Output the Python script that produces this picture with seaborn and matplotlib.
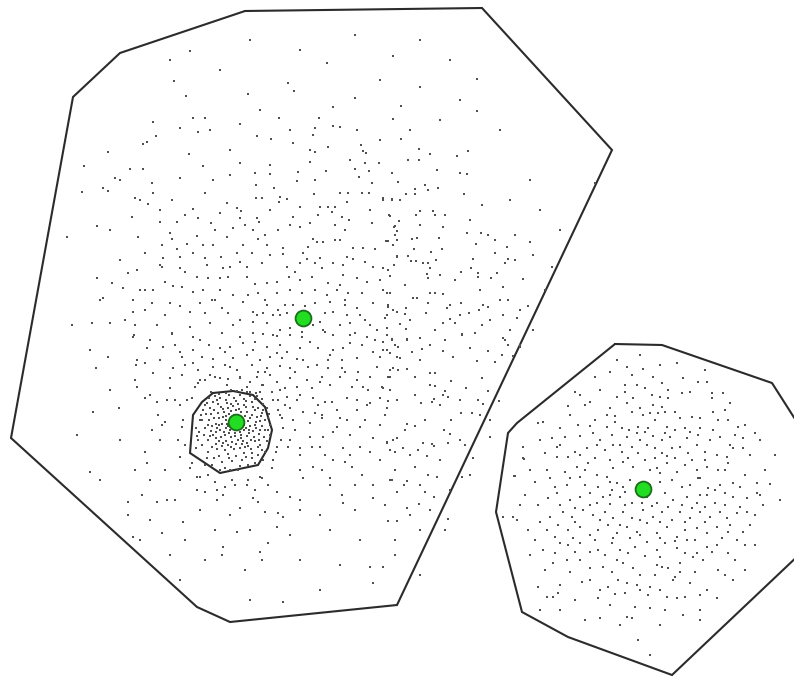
import matplotlib
matplotlib.use("Agg")
import matplotlib.pyplot as plt
import seaborn as sns
import pandas as pd

# Cluster outlines (convex hulls), in pixel coordinates (y grows downward)
hull_wide = [(245, 11), (482, 8), (612, 150), (397, 605), (230, 622), (197, 607),
             (11, 438), (73, 97), (120, 53)]
hull_tight = [(213, 393), (233, 391), (253, 395), (265, 407), (272, 430), (268, 448),
              (258, 465), (220, 473), (190, 453), (193, 415), (202, 402)]
hull_right = [(615, 344), (662, 345), (772, 383), (802, 430), (802, 552), (672, 675),
              (568, 637), (522, 612), (496, 512), (508, 433), (517, 423)]

# Cluster centres
centers_x = [303, 236, 643]
centers_y = [318, 422, 489]

# Observations of the wide cluster
pts_wide = [
    (190, 51), (355, 35), (393, 56), (327, 63), (174, 81), (288, 83), (294, 91), (186, 96),
    (248, 94), (355, 98), (333, 107), (193, 118), (205, 118), (279, 118), (319, 118), (153, 122),
    (240, 124), (333, 126), (340, 127), (180, 128), (315, 128), (357, 130), (198, 132), (156, 136),
    (257, 136), (313, 135), (271, 139), (143, 144), (147, 142), (293, 143), (328, 147), (361, 145),
    (108, 152), (189, 154), (315, 152), (363, 151), (366, 153), (84, 166), (203, 166), (240, 163),
    (270, 165), (310, 162), (365, 163), (379, 163), (130, 169), (143, 169), (255, 173), (270, 174),
    (298, 172), (326, 171), (355, 169), (369, 171), (115, 178), (152, 183), (180, 178), (213, 180),
    (230, 175), (297, 181), (315, 180), (359, 177), (372, 183), (82, 192), (103, 188), (108, 191),
    (153, 193), (205, 193), (256, 185), (274, 188), (340, 193), (348, 193), (362, 193), (369, 193),
    (135, 198), (256, 198), (262, 198), (280, 197), (287, 199), (314, 194), (383, 198), (392, 199),
    (172, 200), (148, 204), (227, 203), (279, 202), (300, 207), (320, 207), (328, 207), (335, 207),
    (193, 209), (237, 208), (241, 211), (347, 202), (332, 212), (220, 213), (132, 217), (342, 217),
    (390, 216), (240, 218), (257, 218), (198, 218), (349, 220), (97, 226), (160, 222), (177, 222),
    (211, 223), (259, 222), (293, 217), (310, 223), (335, 225), (372, 223), (395, 226), (67, 237),
    (138, 237), (170, 233), (197, 236), (233, 228), (253, 230), (265, 235), (278, 230), (300, 227),
    (313, 239), (340, 240), (388, 241), (162, 245), (172, 239), (187, 244), (203, 245), (213, 245),
    (227, 237), (243, 245), (258, 239), (267, 245), (283, 248), (308, 247), (317, 242), (323, 242),
    (335, 240), (353, 248), (363, 248), (375, 249), (393, 245), (145, 253), (177, 249), (193, 253),
    (237, 253), (252, 253), (283, 254), (303, 253), (347, 257), (397, 256), (163, 258), (180, 257),
    (221, 257), (307, 259), (353, 259), (128, 273), (137, 270), (162, 267), (180, 268), (207, 265),
    (223, 268), (230, 267), (247, 267), (262, 263), (287, 267), (300, 263), (315, 263), (322, 268),
    (333, 263), (343, 265), (373, 267), (388, 270), (97, 278), (112, 283), (165, 282), (173, 286),
    (182, 287), (197, 277), (208, 278), (220, 278), (228, 277), (247, 277), (255, 284), (267, 283),
    (277, 282), (289, 277), (300, 280), (312, 277), (328, 283), (343, 275), (357, 278), (367, 282),
    (383, 290), (390, 293), (123, 288), (140, 290), (153, 290), (193, 292), (203, 290), (220, 290),
    (233, 295), (248, 295), (258, 293), (277, 293), (290, 290), (302, 293), (315, 290), (327, 295),
    (337, 290), (348, 293), (362, 293), (103, 298), (133, 300), (152, 303), (170, 303), (180, 306),
    (200, 303), (212, 300), (222, 308), (243, 302), (253, 312), (267, 305), (278, 310), (285, 305),
    (293, 305), (315, 303), (330, 302), (345, 305), (357, 308), (373, 303), (388, 307), (133, 312),
    (145, 310), (205, 313), (228, 313), (257, 315), (263, 313), (273, 315), (287, 313), (325, 313),
    (333, 312), (347, 315), (360, 315), (72, 325), (92, 323), (110, 323), (135, 325), (157, 325),
    (190, 327), (210, 323), (233, 325), (253, 322), (267, 323), (280, 330), (290, 328), (313, 325),
    (323, 330), (340, 325), (350, 323), (370, 325), (387, 328), (134, 335), (172, 333), (193, 337),
    (240, 337), (253, 333), (273, 335), (302, 332), (333, 335), (355, 333), (377, 330),
    (420, 87), (477, 79), (477, 111), (401, 106), (393, 119), (401, 139), (419, 149), (430, 154),
    (457, 156), (468, 151), (408, 160), (419, 160), (392, 173), (437, 170), (460, 173), (467, 174),
    (398, 182), (425, 185), (428, 190), (438, 188), (415, 189), (406, 194), (415, 194), (464, 194),
    (383, 200), (392, 200), (400, 200), (482, 205), (595, 183), (420, 211), (433, 211), (416, 215),
    (435, 215), (389, 215), (399, 221), (394, 227), (443, 227), (397, 231), (467, 233), (481, 233),
    (488, 235), (515, 235), (530, 242), (476, 244), (507, 247), (533, 255), (439, 238), (417, 238),
    (412, 239), (386, 241), (397, 240), (442, 249), (431, 252), (414, 249), (495, 253), (397, 257),
    (408, 256), (473, 259), (508, 259), (394, 265), (411, 261), (416, 261), (423, 263), (428, 263),
    (436, 260), (552, 267), (383, 268), (471, 268), (505, 263), (461, 272), (478, 273), (427, 274),
    (440, 275), (497, 273), (390, 276), (491, 278), (523, 279), (428, 278), (478, 277), (383, 290),
    (387, 293), (430, 293), (435, 293), (443, 294), (503, 287), (417, 298), (413, 298), (508, 300),
    (388, 305), (428, 303), (450, 305), (461, 303), (483, 305), (488, 307), (528, 306), (393, 310),
    (406, 308), (397, 312), (405, 314), (426, 313), (447, 308), (469, 313), (479, 310), (387, 315),
    (503, 315), (517, 318), (450, 319), (443, 323), (455, 323), (482, 325), (400, 324), (406, 329),
    (533, 330), (462, 334), (475, 333), (392, 339), (407, 339), (503, 338),
    (133, 337), (172, 334), (222, 333), (240, 337), (263, 334), (277, 336), (290, 335), (302, 337),
    (325, 332), (350, 335), (367, 337), (387, 335), (147, 348), (163, 347), (180, 352), (193, 350),
    (209, 345), (220, 348), (230, 347), (243, 343), (253, 350), (267, 347), (277, 353), (287, 352),
    (300, 348), (318, 348), (333, 350), (343, 348), (362, 345), (373, 352), (387, 350), (108, 357),
    (137, 360), (182, 357), (202, 357), (213, 359), (233, 358), (247, 355), (260, 360), (270, 357),
    (282, 358), (297, 359), (303, 360), (328, 360), (342, 360), (357, 358), (380, 357), (397, 357),
    (96, 368), (136, 365), (145, 363), (173, 368), (193, 363), (198, 370), (213, 367), (230, 367),
    (237, 370), (252, 365), (267, 368), (280, 366), (290, 368), (308, 367), (317, 365), (328, 368),
    (342, 368), (358, 372), (377, 367), (393, 368), (135, 380), (153, 373), (170, 378), (182, 375),
    (200, 380), (220, 378), (240, 377), (257, 377), (277, 382), (290, 378), (307, 380), (322, 377),
    (340, 377), (357, 380), (370, 377), (390, 377), (137, 387), (198, 383), (227, 385), (247, 387),
    (263, 385), (285, 388), (297, 387), (312, 388), (330, 385), (352, 387), (363, 387), (383, 388),
    (145, 398), (157, 402), (167, 400), (175, 400), (192, 398), (273, 400), (287, 397), (297, 400),
    (313, 398), (325, 402), (332, 402), (347, 398), (357, 400), (370, 403), (380, 398), (397, 400),
    (93, 412), (119, 408), (158, 415), (278, 410), (290, 408), (303, 412), (315, 413), (322, 415),
    (337, 410), (357, 410), (367, 405), (387, 408), (165, 422), (162, 425), (182, 427), (282, 418),
    (293, 420), (310, 423), (322, 418), (337, 427), (347, 420), (360, 427), (380, 425), (77, 435),
    (152, 430), (295, 430), (310, 437), (323, 437), (333, 432), (350, 435), (373, 438), (387, 442),
    (397, 438), (180, 457), (145, 452), (277, 447), (288, 447), (300, 448), (312, 447), (320, 447),
    (343, 448), (360, 447), (370, 452), (390, 450), (147, 463), (192, 463), (90, 472), (273, 460),
    (313, 467), (322, 470), (333, 460), (345, 462), (352, 467), (362, 475), (197, 477), (208, 475),
    (260, 477), (303, 478), (373, 485), (390, 480), (150, 480), (235, 485), (247, 485), (268, 485),
    (330, 485), (142, 495), (197, 490), (217, 490), (223, 495), (277, 492), (290, 497), (342, 495),
    (373, 498), (128, 502), (157, 502), (167, 500), (217, 500), (253, 498), (258, 502), (343, 503),
    (240, 508), (300, 510), (278, 513), (128, 515), (283, 517), (183, 522), (388, 521), (277, 527),
    (162, 533), (237, 532), (133, 537), (268, 543), (223, 547), (222, 555), (260, 552), (262, 560),
    (370, 567), (383, 567), (373, 583), (283, 602),
    (462, 335), (475, 333), (383, 342), (392, 340), (407, 340), (430, 345), (505, 340), (508, 345),
    (520, 347), (383, 350), (398, 347), (412, 352), (422, 349), (443, 351), (488, 351), (390, 353),
    (400, 358), (420, 360), (453, 357), (477, 361), (502, 355), (513, 356), (390, 370), (398, 370),
    (407, 369), (430, 373), (435, 373), (388, 377), (415, 377), (482, 378), (451, 381), (430, 385),
    (435, 386), (382, 387), (466, 388), (488, 391), (445, 391), (443, 395), (448, 397), (388, 401),
    (397, 400), (421, 403), (432, 402), (434, 399), (478, 400), (483, 404), (499, 401), (461, 413),
    (472, 413), (451, 420), (407, 424), (415, 426), (444, 430), (450, 434), (387, 443), (393, 440),
    (423, 443), (432, 444), (434, 446), (448, 443), (490, 437), (403, 448), (395, 452), (418, 450),
    (427, 456), (473, 458), (415, 467), (392, 480), (407, 481), (404, 485), (428, 475), (437, 477),
    (462, 477), (397, 492), (425, 492), (434, 497), (419, 504), (407, 508), (410, 515), (397, 521),
    (448, 519), (383, 567),
    (205, 380), (215, 377), (228, 379), (240, 378), (250, 382), (262, 385), (272, 392), (278, 400),
    (280, 415), (283, 428), (281, 440), (276, 452), (272, 468), (262, 478), (248, 480), (232, 480),
    (215, 482), (200, 477), (190, 468), (185, 445), (183, 420), (187, 400), (195, 387), (270, 375),
    (258, 372), (280, 390), (285, 405), (290, 440), (205, 492), (225, 487), (255, 490), (180, 405),
    (178, 440),
    (160, 210), (185, 215), (215, 230), (245, 225), (270, 210), (290, 225), (318, 215), (345, 230),
    (370, 210), (395, 235), (420, 225), (445, 215), (470, 220), (495, 240), (515, 260), (160, 265),
    (185, 272), (205, 258), (240, 262), (270, 255), (295, 272), (320, 258), (340, 285), (365, 262),
    (380, 280), (405, 285), (430, 268), (455, 280), (480, 290), (500, 300), (520, 310), (145, 290),
    (165, 315), (190, 312), (215, 300), (240, 320), (265, 300), (280, 315), (305, 306), (320, 322),
    (345, 300), (365, 320), (385, 318), (410, 320), (435, 330), (460, 315), (490, 320), (510, 330),
    (150, 340), (175, 345), (200, 340), (225, 352), (255, 342), (280, 345), (310, 342), (330, 355),
    (350, 343), (375, 340), (395, 345), (420, 338), (445, 340), (470, 348), (495, 362), (160, 360),
    (185, 365), (210, 375), (225, 365), (265, 372), (295, 372), (320, 382), (345, 372), (368, 390),
    (390, 390), (415, 395), (440, 405), (460, 400), (480, 415), (150, 395), (170, 388), (300, 395),
    (318, 405), (340, 418), (365, 420), (385, 415), (405, 430), (425, 420), (460, 440), (300, 455),
    (325, 455), (350, 455), (380, 460), (410, 455), (440, 460), (465, 445), (160, 440), (165, 470),
    (180, 480), (300, 470), (330, 478), (355, 485), (395, 470), (420, 485), (450, 490), (175, 500),
    (200, 510), (230, 515), (265, 512), (300, 500), (320, 515), (355, 510), (385, 505), (430, 510),
    (150, 520), (185, 540), (215, 530), (250, 530), (290, 535), (330, 530), (360, 540), (395, 540),
    (420, 530), (170, 555), (205, 560), (245, 570), (300, 560), (340, 565), (395, 555), (120, 180),
    (140, 200), (110, 230), (120, 260), (100, 300), (125, 320), (90, 350), (110, 390), (120, 440),
    (135, 470), (100, 480), (140, 540), (180, 580), (250, 600), (320, 590), (210, 130), (230, 150),
    (260, 110), (290, 130), (310, 150), (350, 160), (380, 140), (410, 130), (440, 120), (460, 100),
    (500, 130), (530, 180), (510, 200), (540, 210), (560, 230), (545, 290), (520, 345), (490, 420),
    (470, 475), (445, 530), (420, 575), (170, 60), (220, 70), (300, 50), (420, 40), (450, 60),
    (380, 80), (250, 40),
]

# Observations of the tight cluster
pts_tight = [
    (236, 410), (241, 412), (229, 414), (245, 416), (232, 418), (226, 420), (248, 421), (222, 424),
    (239, 428), (244, 430), (230, 430), (226, 428), (250, 426), (235, 433), (241, 435), (219, 418),
    (252, 415), (233, 406), (246, 407), (228, 408), (238, 404), (224, 412), (253, 431), (220, 430),
    (247, 436), (231, 437), (238, 440), (225, 435), (216, 424), (256, 422), (234, 415), (243, 419),
    (227, 424), (249, 430), (237, 425), (231, 411), (244, 425), (223, 417), (240, 432), (229, 433),
    (214, 410), (218, 404), (226, 400), (234, 398), (244, 399), (252, 402), (258, 408), (261, 416),
    (262, 426), (259, 434), (255, 441), (248, 446), (240, 448), (231, 447), (223, 443), (216, 438),
    (211, 431), (209, 420), (211, 414), (220, 398), (250, 396), (257, 396), (263, 404), (265, 420),
    (264, 437), (258, 447), (244, 453), (228, 454), (217, 449), (208, 440), (205, 428), (206, 414),
    (213, 402), (240, 395), (229, 395), (247, 443), (222, 446), (262, 413), (216, 432), (254, 437),
    (243, 424), (230, 424), (237, 420), (221, 407), (255, 410), (260, 430), (212, 426), (226, 441),
    (236, 444), (251, 449), (200, 420), (199, 432), (202, 445), (208, 452), (214, 458), (222, 462),
    (232, 461), (242, 460), (252, 458), (258, 455), (262, 450), (267, 441), (268, 430), (268, 418),
    (267, 408), (262, 399), (256, 393), (247, 392), (237, 391), (226, 393), (215, 396), (207, 403),
    (203, 410), (196, 428), (198, 440), (212, 465), (225, 468), (240, 466), (255, 463), (263, 460),
    (238, 470), (220, 470), (196, 448), (205, 465), (270, 425), (211, 392), (260, 392),
    (234, 420), (238, 416), (242, 422), (230, 420), (236, 426), (233, 429), (240, 419), (228, 426),
    (246, 428), (235, 436), (224, 432), (219, 425), (250, 418), (247, 412), (239, 409), (231, 404),
    (223, 409), (218, 413), (214, 418), (213, 435), (219, 441), (228, 445), (243, 441), (251, 440),
    (256, 428), (257, 417), (253, 407), (246, 401), (236, 401), (227, 403), (242, 444), (234, 449),
    (225, 450), (216, 444), (210, 436), (208, 425), (210, 408), (217, 400), (255, 399), (260, 421),
    (259, 440), (252, 453), (246, 457), (236, 456), (229, 458), (219, 456), (212, 447), (204, 435),
    (202, 420), (205, 405), (244, 405), (232, 442), (221, 437), (249, 433), (226, 416), (241, 438),
    (231, 426), (255, 425), (217, 428), (245, 447), (260, 445), (265, 430), (263, 410), (250, 392),
    (242, 390), (231, 390), (219, 394), (209, 398), (201, 415), (197, 436), (207, 458), (230, 470),
    (248, 465), (265, 452), (270, 435), (269, 414),
]

# Observations of the right-hand cluster
pts_right = [
    (617, 360), (627, 367), (643, 369), (677, 363), (653, 377), (595, 377), (683, 378), (698, 382),
    (707, 382), (625, 385), (637, 385), (662, 383), (575, 392), (580, 395), (625, 392), (617, 397),
    (633, 398), (652, 395), (660, 397), (668, 398), (682, 393), (712, 393), (712, 398), (723, 393),
    (590, 402), (627, 403), (640, 408), (653, 405), (662, 407), (665, 412), (568, 406), (607, 415),
    (615, 416), (643, 415), (650, 413), (658, 413), (680, 418), (692, 417), (713, 412), (718, 420),
    (728, 420), (538, 423), (543, 422), (570, 415), (578, 425), (595, 420), (607, 427), (622, 428),
    (629, 430), (638, 427), (648, 428), (667, 427), (675, 430), (685, 428), (700, 428), (713, 430),
    (738, 427), (755, 433), (552, 438), (565, 437), (580, 436), (593, 433), (600, 440), (612, 435),
    (627, 437), (637, 433), (653, 436), (662, 440), (670, 437), (687, 438), (698, 435), (720, 437),
    (735, 435), (743, 438), (523, 447), (545, 453), (557, 447), (568, 457), (575, 452), (587, 448),
    (597, 445), (605, 450), (613, 445), (622, 452), (632, 447), (638, 453), (647, 445), (655, 448),
    (662, 453), (672, 448), (680, 447), (688, 453), (697, 445), (705, 452), (717, 455), (727, 457),
    (733, 448), (743, 448), (557, 457), (523, 458), (547, 470), (565, 472), (577, 467), (588, 463),
    (597, 475), (613, 468), (623, 462), (633, 467), (657, 468), (667, 463), (677, 472), (685, 465),
    (697, 470), (707, 467), (718, 470), (728, 463), (515, 476), (580, 477), (607, 477), (617, 483),
    (623, 487), (660, 473), (672, 480), (682, 487), (698, 478), (708, 488), (720, 485), (733, 483),
    (757, 483), (770, 484), (535, 482), (555, 487), (567, 485), (548, 498), (557, 493), (570, 500),
    (580, 497), (590, 493), (597, 503), (603, 497), (612, 490), (620, 497), (632, 503), (637, 493),
    (647, 497), (657, 503), (665, 493), (673, 500), (687, 497), (697, 503), (707, 495), (715, 503),
    (725, 493), (733, 497), (747, 498), (763, 505), (757, 493), (513, 517), (540, 522), (563, 512),
    (572, 517), (583, 510), (593, 515), (605, 512), (613, 518), (623, 512), (632, 518), (643, 510),
    (653, 517), (662, 512), (672, 520), (680, 512), (690, 518), (700, 512), (710, 517), (720, 512),
    (727, 518), (737, 513), (747, 512), (547, 530), (558, 525), (568, 530), (580, 527), (590, 535),
    (598, 530), (608, 525), (617, 533), (627, 527), (637, 532), (647, 523), (657, 533), (667, 527),
    (677, 537), (685, 530), (697, 528), (707, 533), (717, 527), (728, 532), (743, 532), (543, 550),
    (560, 543), (568, 545), (580, 543), (590, 552), (598, 550), (612, 543), (620, 550), (630, 538),
    (635, 547), (647, 542), (657, 550), (665, 543), (677, 548), (687, 540), (697, 553), (707, 547),
    (717, 545), (737, 540), (728, 553), (553, 563), (567, 560), (580, 560), (603, 567), (617, 560),
    (623, 563), (633, 568), (657, 565), (662, 567), (668, 568), (680, 563), (693, 557), (703, 560),
    (718, 570), (680, 572), (538, 587), (582, 582), (590, 580), (608, 587), (618, 580), (627, 583),
    (637, 585), (650, 587), (673, 580), (690, 583), (707, 590), (733, 580), (547, 597), (553, 597),
    (598, 598), (625, 593), (648, 595), (667, 597), (677, 598), (685, 597), (717, 598), (650, 608),
    (627, 617), (632, 618), (683, 615), (638, 640), (558, 593), (524, 459), (514, 476), (503, 517),
    (517, 520),
    (632, 375), (645, 388), (668, 390), (690, 392), (600, 390), (585, 405), (610, 408), (632, 412),
    (655, 420), (675, 412), (700, 418), (725, 410), (745, 425), (560, 428), (590, 426), (615, 422),
    (645, 432), (665, 433), (690, 432), (710, 440), (730, 445), (750, 455), (540, 440), (560, 445),
    (580, 455), (595, 458), (610, 460), (628, 458), (645, 460), (655, 458), (667, 456), (692, 460),
    (705, 460), (725, 470), (745, 475), (530, 470), (550, 478), (570, 478), (585, 485), (598, 487),
    (610, 482), (630, 480), (650, 485), (660, 482), (690, 485), (700, 495), (715, 490), (740, 487),
    (760, 495), (525, 495), (538, 505), (560, 505), (575, 508), (590, 505), (610, 504), (625, 505),
    (642, 503), (652, 506), (668, 507), (682, 505), (692, 508), (705, 507), (725, 505), (740, 507),
    (755, 515), (528, 530), (550, 517), (575, 522), (600, 520), (620, 525), (640, 520), (660, 522),
    (685, 522), (705, 522), (730, 525), (750, 525), (535, 540), (555, 537), (573, 538), (595, 540),
    (613, 538), (640, 535), (660, 538), (675, 541), (695, 540), (722, 538), (745, 545), (555, 553),
    (575, 552), (605, 555), (628, 553), (645, 556), (660, 557), (685, 553), (712, 552), (735, 560),
    (545, 570), (570, 572), (590, 568), (612, 572), (640, 575), (655, 575), (675, 577), (695, 572),
    (725, 575), (560, 585), (600, 590), (615, 594), (640, 590), (660, 590), (700, 595), (745, 570),
    (575, 600), (610, 605), (635, 607), (665, 610), (700, 610), (620, 625), (660, 625), (600, 618),
    (650, 655), (700, 620), (560, 610), (585, 620), (540, 610), (755, 545), (765, 470), (775, 455),
    (780, 500), (760, 440), (520, 505), (530, 555), (640, 355), (660, 365), (610, 372), (705, 370),
    (730, 403), (620, 445), (640, 440), (650, 470), (675, 458), (610, 495), (625, 492), (585, 470),
    (700, 478),
]

frames = []
for name, pts in (("wide", pts_wide), ("tight", pts_tight), ("right", pts_right)):
    frames.append(pd.DataFrame(pts, columns=["x", "y"]).assign(cluster=name))
points = pd.concat(frames, ignore_index=True)
centers = pd.DataFrame({"x": centers_x, "y": centers_y})

sns.set_theme(style="white")
fig = plt.figure(figsize=(7.94, 6.79), dpi=100)
ax = fig.add_axes([0, 0, 1, 1])

for hull in (hull_wide, hull_tight, hull_right):
    hx = [p[0] for p in hull] + [hull[0][0]]
    hy = [p[1] for p in hull] + [hull[0][1]]
    ax.plot(hx, hy, color="#2b2b2b", linewidth=1.5, solid_joinstyle="miter", zorder=2)

sns.scatterplot(data=points, x="x", y="y", ax=ax, color="#505050", s=4,
                marker="s", linewidth=0, legend=False, zorder=3)
sns.scatterplot(data=centers, x="x", y="y", ax=ax, color="#22dd22", s=130,
                edgecolor="#1b6e1b", linewidth=1.3, legend=False, zorder=4)

ax.set_xlim(0, 794)
ax.set_ylim(679, 0)
ax.set_axis_off()
fig.savefig("out.png", dpi=100, facecolor="white")
